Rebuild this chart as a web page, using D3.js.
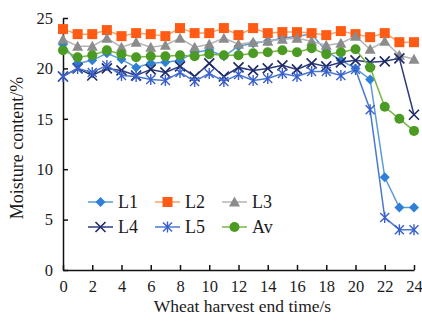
<!DOCTYPE html>
<html>
<head>
<meta charset="utf-8">
<script src="https://cdn.jsdelivr.net/npm/d3@7"></script>
<style>
	body { margin: 0; background: #fff; }
	text { font-family: "Liberation Serif", "Times New Roman", serif; fill: #1a1a1a; }
</style>
</head>
<body>
<svg id="chart" width="422" height="324"></svg>
<script>
// harvest end time, s
var times = [0,1,2,3,4,5,6,7,8,9,10,11,12,13,14,15,16,17,18,19,20,21,22,23,24];
var xTicks = [0,2,4,6,8,10,12,14,16,18,20,22,24];
var yTicks = [0,5,10,15,20,25];

// moisture content, %
var L1 = [22.4,20.5,20.8,21.5,20.9,20.1,20.5,20.6,20.8,21.6,21.8,21.2,22.2,22.5,22.7,23.0,23.2,23.4,21.7,20.8,20.0,18.9,9.2,6.2,6.2];
var L2 = [23.9,23.4,23.4,23.8,23.2,23.5,23.4,23.2,24.0,23.5,23.5,24.0,23.3,24.0,23.5,23.6,23.6,23.5,23.3,23.7,23.4,23.1,23.5,22.6,22.6];
var L3 = [22.9,22.2,22.2,23.0,22.1,22.6,22.1,22.3,23.0,22.1,22.4,23.0,22.4,22.6,22.7,22.9,23.0,22.7,22.3,22.5,23.2,21.9,22.7,21.3,20.9];
var L4 = [19.2,20.0,19.3,20.0,19.8,19.3,19.9,19.6,20.2,19.2,20.5,19.2,20.1,19.8,20.0,20.3,19.9,20.5,20.2,20.6,20.8,20.6,20.7,21.0,15.4];
var L5 = [19.2,20.0,19.6,20.3,19.3,19.2,18.9,18.8,19.6,18.7,19.5,18.7,19.4,18.8,19.0,19.5,19.2,19.7,19.7,19.3,19.9,15.9,5.2,4.0,4.0];
var Av = [21.8,21.1,21.3,21.8,21.4,21.1,21.2,21.2,21.3,21.2,21.4,21.3,21.3,21.5,21.6,21.8,21.6,22.0,21.4,21.6,21.9,20.1,16.2,15.0,13.8];

var seriesNames = ["L1","L2","L3","L4","L5","Av"];
var seriesData = [L1, L2, L3, L4, L5, Av];

var styles = {
	L1: { line: "#5b9bd5", mark: "#2e7fd6", shape: "diamond" },
	L2: { line: "#f7a26b", mark: "#ff5b14", shape: "square" },
	L3: { line: "#b5b5b5", mark: "#8c8c8c", shape: "triangle" },
	L4: { line: "#2b3b7c", mark: "#1e2a66", shape: "x" },
	L5: { line: "#4a78d0", mark: "#3a5fcb", shape: "star" },
	Av: { line: "#7ab648", mark: "#4b9a23", shape: "circle" }
};

var svg = d3.select("#chart"),
	MARGINS = { top: 18, right: 8, bottom: 54, left: 63 },
	WIDTH = 422, HEIGHT = 324;

var xScale = d3.scaleLinear()
	.domain([0, 24])
	.range([MARGINS.left, 414]);
var yScale = d3.scaleLinear()
	.domain([0, 25])
	.range([HEIGHT - MARGINS.bottom, MARGINS.top]);

var xAxis = d3.axisBottom(xScale).tickValues(xTicks).tickSize(-5).tickSizeOuter(0).tickPadding(10);
var yAxis = d3.axisLeft(yScale).tickValues(yTicks).tickSize(-5).tickSizeOuter(0).tickPadding(10);

var gx = svg.append("g")
	.attr("transform", "translate(0," + yScale(0) + ")")
	.call(xAxis);
var gy = svg.append("g")
	.attr("transform", "translate(" + xScale(0) + ",0)")
	.call(yAxis);

[gx, gy].forEach(function(g) {
	g.selectAll("path, line").attr("stroke", "#111").attr("stroke-width", 1.5);
	g.selectAll("text").attr("font-size", 16.5).attr("fill", "#1a1a1a")
		.attr("font-family", "Liberation Serif");
});

svg.append("text")
	.attr("x", (xScale(0) + xScale(24)) / 2 + 4)
	.attr("y", 312)
	.attr("text-anchor", "middle")
	.attr("font-size", 17.5)
	.text("Wheat harvest end time/s");

svg.append("text")
	.attr("transform", "translate(23,148) rotate(-90)")
	.attr("text-anchor", "middle")
	.attr("font-size", 18)
	.text("Moisture content/%");

// marker shapes
function marker(g, shape, color) {
	if (shape === "circle") {
		g.append("circle").attr("r", 5).attr("fill", color);
	} else if (shape === "square") {
		g.append("rect").attr("x", -5).attr("y", -5).attr("width", 10).attr("height", 10).attr("fill", color);
	} else if (shape === "diamond") {
		g.append("path").attr("d", "M0,-5L5,0L0,5L-5,0Z").attr("fill", color);
	} else if (shape === "triangle") {
		g.append("path").attr("d", "M0,-5.5L5.5,4.5L-5.5,4.5Z").attr("fill", color);
	} else if (shape === "x") {
		g.append("path").attr("d", "M-5,-5L5,5M-5,5L5,-5").attr("stroke", color).attr("stroke-width", 1.6).attr("fill", "none");
	} else if (shape === "star") {
		g.append("path").attr("d", "M-4.5,-4.5L4.5,4.5M-4.5,4.5L4.5,-4.5M0,-5.5L0,5.5").attr("stroke", color).attr("stroke-width", 1.4).attr("fill", "none");
	}
}

var lineGen = d3.line()
	.x(function(d, i) { return xScale(times[i]); })
	.y(function(d) { return yScale(d); });

for (var i = 0; i < seriesNames.length; i++) {
	var st = styles[seriesNames[i]];
	svg.append("path")
		.attr("d", lineGen(seriesData[i]))
		.attr("stroke", st.line)
		.attr("stroke-width", 1.5)
		.attr("fill", "none");
	var pts = svg.append("g");
	seriesData[i].forEach(function(v, k) {
		var g = pts.append("g").attr("transform", "translate(" + xScale(times[k]) + "," + yScale(v) + ")");
		marker(g, st.shape, st.mark);
	});
}

// legend, 2 rows of 3
var legend = svg.append("g");
seriesNames.forEach(function(name, i) {
	var st = styles[name];
	var lx = 88 + (i % 3) * 67;
	var ly = 202 + Math.floor(i / 3) * 25;
	var g = legend.append("g").attr("transform", "translate(" + lx + "," + ly + ")");
	g.append("line").attr("x1", 0).attr("x2", 25).attr("y1", 0).attr("y2", 0)
		.attr("stroke", st.line).attr("stroke-width", 1.5);
	marker(g.append("g").attr("transform", "translate(12.5,0)"), st.shape, st.mark);
	g.append("text").attr("x", 30).attr("y", 6).attr("font-size", 18).text(name);
});
</script>
</body>
</html>
